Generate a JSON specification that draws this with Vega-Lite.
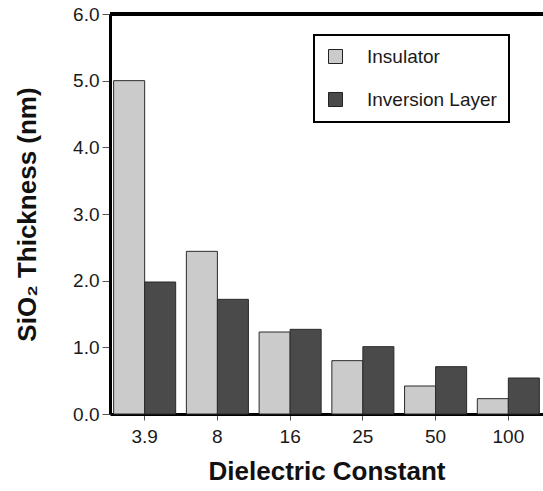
{
  "$schema": "https://vega.github.io/schema/vega-lite/v6.json",
  "width": 433,
  "height": 400,
  "autosize": {"type": "none"},
  "padding": {"left": 110, "top": 14, "right": 0, "bottom": 77},
  "background": "white",
  "config": {
    "view": {"stroke": null},
    "font": "Liberation Sans",
    "axis": {"labelColor": "#1a1a1a", "titleColor": "#111", "grid": false},
    "legend": {"strokeWidth": 2}
  },
  "data": {
    "values": [
      {"k": "3.9", "series": "Insulator", "v": 5.0},
      {"k": "3.9", "series": "Inversion Layer", "v": 1.98},
      {"k": "8", "series": "Insulator", "v": 2.44},
      {"k": "8", "series": "Inversion Layer", "v": 1.72},
      {"k": "16", "series": "Insulator", "v": 1.23},
      {"k": "16", "series": "Inversion Layer", "v": 1.27},
      {"k": "25", "series": "Insulator", "v": 0.8},
      {"k": "25", "series": "Inversion Layer", "v": 1.01},
      {"k": "50", "series": "Insulator", "v": 0.42},
      {"k": "50", "series": "Inversion Layer", "v": 0.71},
      {"k": "100", "series": "Insulator", "v": 0.23},
      {"k": "100", "series": "Inversion Layer", "v": 0.54}
    ]
  },
  "layer": [
    {
      "mark": {"type": "bar", "stroke": "#2a2a2a", "strokeWidth": 1},
      "encoding": {
        "x": {
          "field": "k",
          "type": "nominal",
          "sort": null,
          "scale": {"paddingInner": 0.147, "paddingOuter": 0.05},
          "title": "Dielectric Constant",
          "axis": {
            "labelAngle": 0,
            "labelFontSize": 19,
            "labelPadding": 7,
            "tickSize": 6,
            "tickColor": "#555",
            "tickWidth": 1,
            "domainColor": "black",
            "domainWidth": 3,
            "titleFontSize": 26,
            "titleFontWeight": "bold",
            "titlePadding": 12
          }
        },
        "xOffset": {
          "field": "series",
          "type": "nominal",
          "sort": null,
          "scale": {"paddingInner": 0, "paddingOuter": 0}
        },
        "y": {
          "field": "v",
          "type": "quantitative",
          "scale": {"domain": [0, 6], "nice": false},
          "title": "SiO₂ Thickness (nm)",
          "axis": {
            "values": [0, 1, 2, 3, 4, 5, 6],
            "format": ".1f",
            "labelFontSize": 19,
            "labelPadding": 3,
            "tickSize": 8,
            "tickColor": "#555",
            "tickWidth": 1,
            "domainColor": "black",
            "domainWidth": 3,
            "titleFontSize": 26,
            "titleFontWeight": "bold",
            "titlePadding": 32
          }
        },
        "fill": {
          "field": "series",
          "type": "nominal",
          "scale": {"domain": ["Insulator", "Inversion Layer"], "range": ["#cbcbcb", "#4a4a4a"]},
          "legend": {
            "title": null,
            "orient": "none",
            "legendX": 204,
            "legendY": 21,
            "padding": 12,
            "strokeColor": "black",
            "fillColor": "white",
            "symbolType": "square",
            "symbolSize": 196,
            "symbolStrokeColor": "#222",
            "symbolStrokeWidth": 1,
            "labelFontSize": 19,
            "labelColor": "#1a1a1a",
            "labelOffset": 22,
            "rowPadding": 23
          }
        }
      }
    },
    {
      "mark": {"type": "rule", "strokeWidth": 3, "color": "black"},
      "encoding": {"y": {"datum": 6}}
    }
  ]
}
